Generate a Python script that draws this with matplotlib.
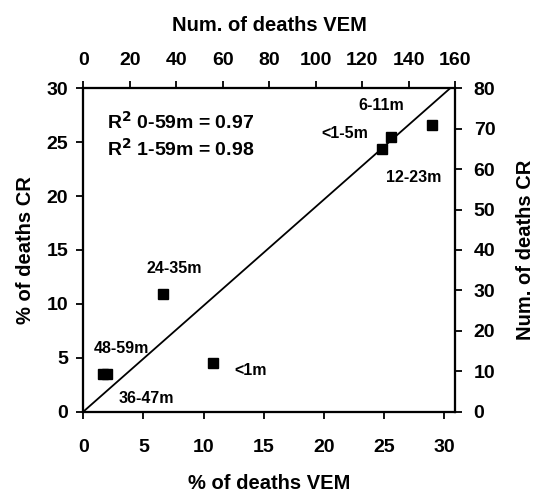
import matplotlib
matplotlib.use("Agg")
import matplotlib.pyplot as plt

plt.rcParams['font.family'] = ['Liberation Sans', 'DejaVu Sans']
plt.rcParams['font.weight'] = 'bold'

# Data
categories = ["<1m", "<1-5m", "6-11m", "12-23m", "24-35m", "36-47m", "48-59m"]
vem_pct = [10.8, 24.8, 25.6, 29.0, 6.6, 1.6, 2.0]
cr_pct = [4.5, 24.4, 25.5, 26.6, 10.9, 3.5, 3.5]
# label offsets in pixels (dx, dy; dy positive = up) relative to each point
label_offsets = [(37, -7), (-37, 15), (-10, 31), (-18, -53), (12, 26), (44, -25), (14, 25)]

ref_line_x = [0, 30.5]
ref_line_y = [0, 30]

bottom_ticks = [0, 5, 10, 15, 20, 25, 30]
left_ticks = [0, 5, 10, 15, 20, 25, 30]
top_ticks = [0, 20, 40, 60, 80, 100, 120, 140, 160]
right_ticks = [0, 10, 20, 30, 40, 50, 60, 70, 80]

r2_lines = ["R$^2$ 0-59m = 0.97", "R$^2$ 1-59m = 0.98"]

fig = plt.figure(figsize=(5.41, 4.93), dpi=100)
ax = fig.add_axes([0.154, 0.165, 0.687, 0.656])

ax.plot(ref_line_x, ref_line_y, color='black', lw=1.3)
ax.plot(vem_pct, cr_pct, 's', color='black', markersize=7.8, linestyle='none')

for cat, x, y, (dx, dy) in zip(categories, vem_pct, cr_pct, label_offsets):
    ax.annotate(cat, (x, y), xytext=(dx, dy), textcoords='offset pixels',
                ha='center', va='center', fontsize=11.5, fontweight='bold')

ax.text(2.0, 26.9, r2_lines[0], ha='left', va='center', fontsize=14, fontweight='bold')
ax.text(2.0, 24.4, r2_lines[1], ha='left', va='center', fontsize=14, fontweight='bold')

ax.set_xlim(0, 30.9)
ax.set_ylim(0, 30)
ax.set_xticks(bottom_ticks)
ax.set_yticks(left_ticks)
ax.set_xlabel("% of deaths VEM", fontsize=14.5, fontweight='bold', labelpad=13)
ax.set_ylabel("% of deaths CR", fontsize=14.5, fontweight='bold', labelpad=8)

axt = ax.twiny()
axt.set_xlim(0, 160)
axt.set_xticks(top_ticks)
axt.set_xlabel("Num. of deaths VEM", fontsize=14.5, fontweight='bold', labelpad=15)

axr = ax.twinx()
axr.set_ylim(0, 80)
axr.set_yticks(right_ticks)
axr.set_ylabel("Num. of deaths CR", fontsize=14.5, fontweight='bold', labelpad=15)

for a in (ax, axt, axr):
    for s in a.spines.values():
        s.set_linewidth(1.5)
    a.tick_params(direction='out', length=5, width=1.3, labelsize=14, pad=5)
    for lbl in a.get_xticklabels() + a.get_yticklabels():
        lbl.set_fontweight('bold')
ax.tick_params(axis='x', pad=15)
axt.tick_params(axis='x', pad=9)
ax.tick_params(axis='y', pad=6)
axr.tick_params(axis='y', pad=8.5)

fig.savefig("out.png", dpi=100)
